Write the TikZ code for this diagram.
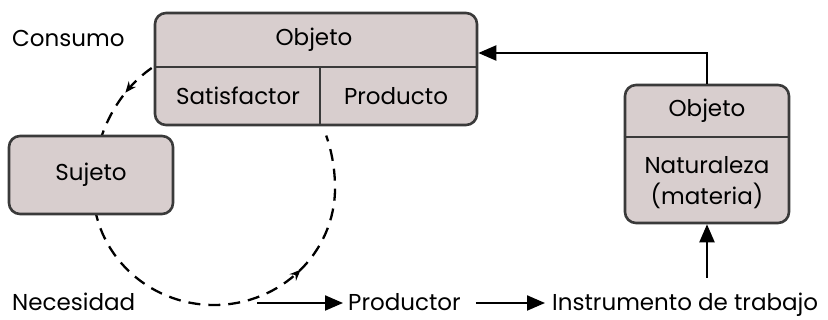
\documentclass[tikz,border=0pt]{standalone}
\usepackage{fontspec}
\setmainfont{Poppins}
\usetikzlibrary{arrows.meta,decorations.markings}
\definecolor{cajafondo}{RGB}{216,206,206}
\definecolor{cajaborde}{RGB}{58,58,58}
\begin{document}
\begin{tikzpicture}[x=1pt,y=-1pt,
  caja/.style={draw=cajaborde,fill=cajafondo,line width=2.6pt,rounded corners=11pt},
  division/.style={draw=cajaborde,line width=1.8pt},
  flecha/.style={line width=2.1pt,-{Triangle[length=18pt,width=15pt]}},
  ciclo/.style={line width=2.3pt,dash pattern=on 12pt off 8pt,
    decoration={markings,
      mark=at position 0.064 with {\arrow{Stealth[length=11pt,width=9pt]}},
      mark=at position 0.745 with {\arrow{Stealth[length=11pt,width=9pt]}}},
    postaction=decorate}]
\tikzstyle{every node}+=[inner sep=0pt,font=\fontsize{23}{31}\selectfont]
\useasboundingbox (0,0) rectangle (828,320);
\draw[ciclo] (151.7,68) arc[start angle=-121,end angle=-180,x radius=121,y radius=140]
  arc[start angle=-180,end angle=-360,x radius=121,y radius=117]
  arc[start angle=0,end angle=-22,x radius=121,y radius=140];
\node[caja,minimum width=322pt,minimum height=112pt] (consumo) at (316,69) {};
\draw[division] (consumo.west |- 0,67) -- (consumo.east |- 0,67);
\draw[division] (320,67) -- (320,125);
\node (objeto) at (314,40) {Objeto};
\node (satisfactor) at (238,96) {Satisfactor};
\node (producto) at (396,96) {Producto};
\node[anchor=base west] (consumolbl) at (12,47) {Consumo};
\node[caja,minimum width=164pt,minimum height=78pt] (sujeto) at (91,175) {Sujeto};
\node[caja,minimum width=164pt,minimum height=138pt] (materia) at (707,154) {};
\draw[division] (materia.west |- 0,137) -- (materia.east |- 0,137);
\node (objetodos) at (707,111) {Objeto};
\node[align=center] (naturaleza) at (707,183) {Naturaleza\\(materia)};
\node[anchor=base west] (necesidad) at (12,311) {Necesidad};
\node[anchor=base west] (productor) at (348,311) {Productor};
\node[anchor=base west] (instrumento) at (552,311) {Instrumento de trabajo};
\coordinate (inicio) at (257,303);
\draw[flecha,shorten >=5pt] (inicio) -- (productor.west |- inicio);
\draw[flecha,shorten <=15pt,shorten >=7pt] (productor.east |- inicio) -- (instrumento.west |- inicio);
\draw[flecha] (materia.south |- 0,278) -- (materia.south);
\draw[flecha] (materia.north) |- (consumo.east |- 0,53);
\end{tikzpicture}
\end{document}
